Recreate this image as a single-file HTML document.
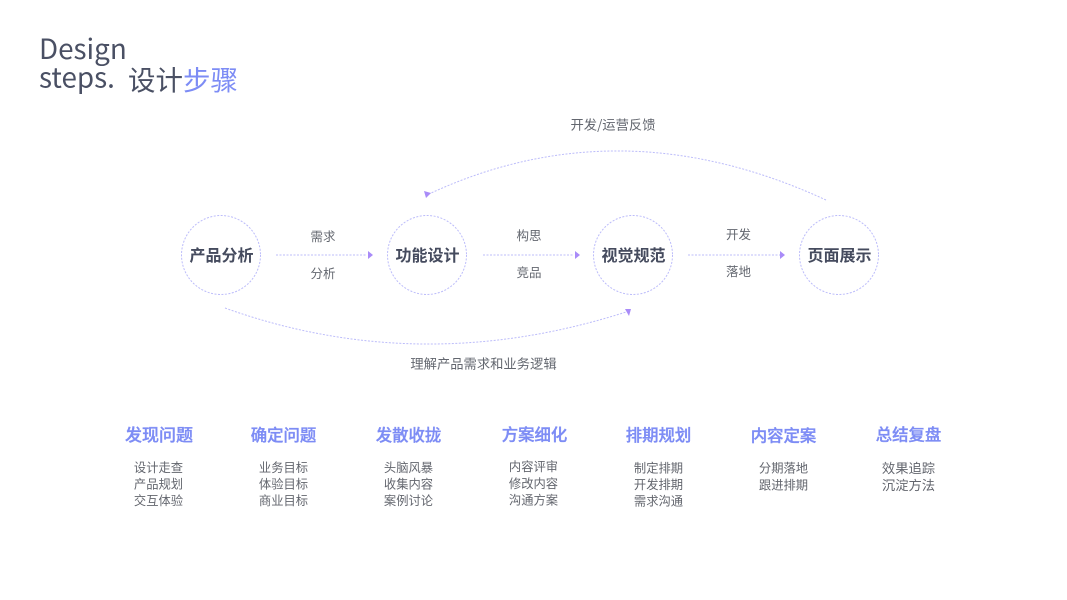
<!DOCTYPE html>
<html><head><meta charset="utf-8"><style>
html,body{margin:0;padding:0;background:#fff;width:1067px;height:600px;overflow:hidden}
svg{display:block}
text{font-family:"Noto Sans CJK SC","Liberation Sans",sans-serif}
.n{font-size:16px;font-weight:700;fill:#454b5e;text-anchor:middle}
.l{font-size:12.5px;fill:#63676f;text-anchor:middle}
.w{font-size:13.3px}
.h{font-size:16.4px;font-weight:500;fill:#7d8cf5;stroke:#7d8cf5;stroke-width:.35px;text-anchor:middle}
.s{font-size:12.3px;fill:#63666e;text-anchor:middle}
.c{fill:none;stroke:#bcbcfa;stroke-width:1;stroke-dasharray:2 1.5}
.a{fill:#a98bf8}
</style></head><body>
<svg width="1067" height="600" viewBox="0 0 1067 600" xmlns="http://www.w3.org/2000/svg">
<text x="39" y="59" font-size="27.8" fill="#4a5064">Design</text>
<text x="39" y="87.500" font-size="27.8" fill="#4a5064">steps.</text>
<text x="128" y="90" font-size="27.5" fill="#4a5064">设计<tspan fill="#7d8cf5">步骤</tspan></text>

<circle class="c" cx="221" cy="255" r="39.5"/>
<circle class="c" cx="427" cy="255" r="39.5"/>
<circle class="c" cx="633" cy="255" r="39.5"/>
<circle class="c" cx="839" cy="255" r="39.5"/>
<text class="n" x="221.500" y="261">产品分析</text>
<text class="n" x="427.500" y="261">功能设计</text>
<text class="n" x="633.500" y="261">视觉规范</text>
<text class="n" x="839.500" y="261">页面展示</text>

<path class="c" d="M276 255H367"/><path class="a" d="M368 251L373 255L368 259Z"/>
<path class="c" d="M483 255H574"/><path class="a" d="M575 251L580 255L575 259Z"/>
<path class="c" d="M688 255H780"/><path class="a" d="M780 251L785 255L780 259Z"/>

<path class="c" d="M826 200Q620 105 429 194"/><path class="a" d="M424 191L431 193L426 198Z"/>
<path class="c" d="M225 308Q420 378 626 312"/><path class="a" d="M625 309L631 309L629 316Z"/>

<text class="l" x="323" y="241">需求</text>
<text class="l" x="323" y="278">分析</text>
<text class="l" x="529" y="240">构思</text>
<text class="l" x="529" y="277">竞品</text>
<text class="l" x="738.500" y="239">开发</text>
<text class="l" x="738.500" y="276">落地</text>
<text class="l w" x="613" y="129.500">开发/运营反馈</text>
<text class="l w" x="483.500" y="368.500">理解产品需求和业务逻辑</text>

<text class="h" style="font-size:17px" x="159" y="441">发现问题</text>
<text class="h" x="283.500" y="441">确定问题</text>
<text class="h" x="408.500" y="441">发散收拢</text>
<text class="h" x="534.500" y="440.500">方案细化</text>
<text class="h" x="658.500" y="441">排期规划</text>
<text class="h" x="783.500" y="441.500">内容定案</text>
<text class="h" x="908.500" y="440.500">总结复盘</text>

<text class="s" x="158.500" y="472">设计走查</text>
<text class="s" x="158.500" y="488.500">产品规划</text>
<text class="s" x="158.500" y="505">交互体验</text>
<text class="s" x="283.500" y="472">业务目标</text>
<text class="s" x="283.500" y="488.500">体验目标</text>
<text class="s" x="283.500" y="505">商业目标</text>
<text class="s" x="408.500" y="472">头脑风暴</text>
<text class="s" x="408.500" y="488.500">收集内容</text>
<text class="s" x="408.500" y="505">案例讨论</text>
<text class="s" x="533.500" y="471">内容评审</text>
<text class="s" x="533.500" y="488">修改内容</text>
<text class="s" x="533.500" y="504.500">沟通方案</text>
<text class="s" x="658.500" y="472.500">制定排期</text>
<text class="s" x="658.500" y="489">开发排期</text>
<text class="s" x="658.500" y="505.500">需求沟通</text>
<text class="s" x="783.500" y="472.500">分期落地</text>
<text class="s" x="783.500" y="489.500">跟进排期</text>
<text class="s" style="font-size:13.3px" x="908.500" y="473">效果追踪</text>
<text class="s" style="font-size:13.3px" x="908.500" y="490">沉淀方法</text>
</svg>
</body></html>
